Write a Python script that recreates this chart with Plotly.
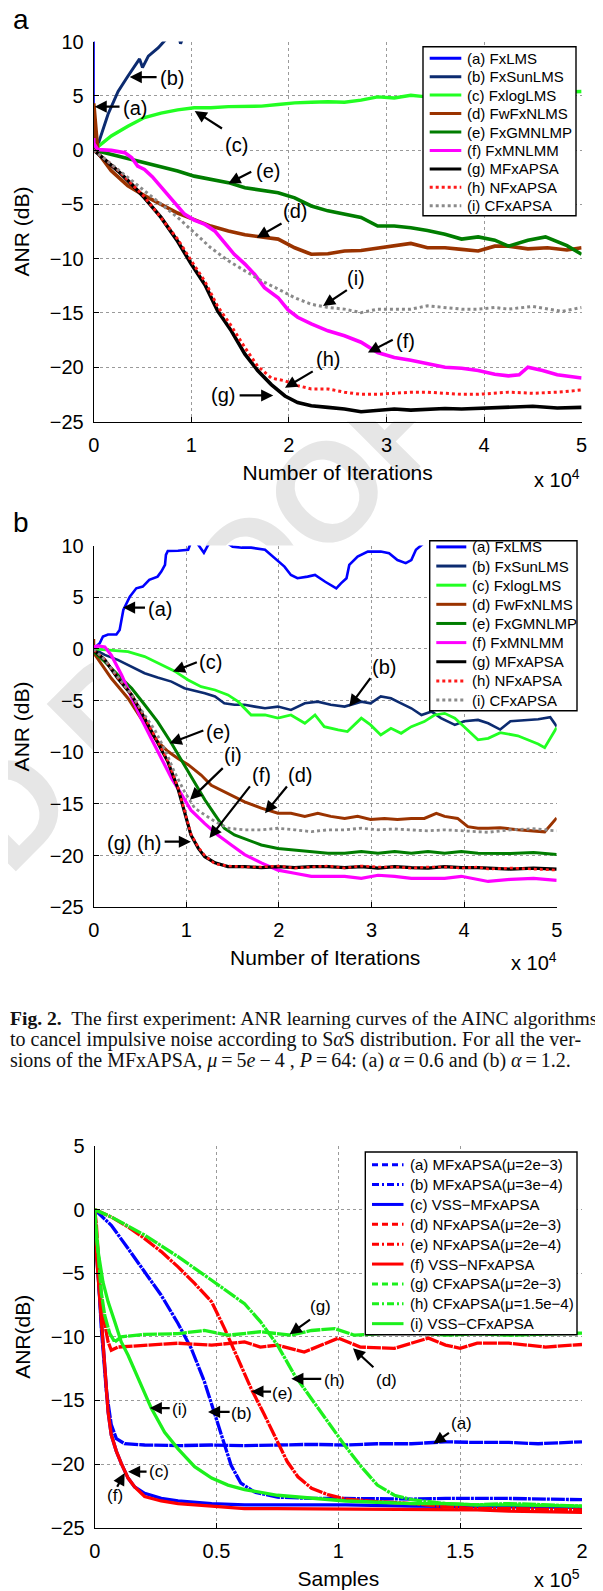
import plotly.graph_objects as go

W, H = 603, 1591
OFF = 8                       # the page body margin that shifts the figure
FW, FH = W - OFF, H - OFF     # figure size that exactly fills the window
SANS = "Liberation Sans, Arial, sans-serif"
SERIF = "Liberation Serif, Times New Roman, serif"

# ================= Panel (a): alpha = 0.6  (x in units of 1e4 iterations, ANR in dB)
A_NAMES = ["(a) FxLMS", "(b) FxSunLMS", "(c) FxlogLMS", "(d) FwFxNLMS", "(e) FxGMNLMP",
           "(f) FxMNLMM", "(g) MFxAPSA", "(h) NFxAPSA", "(i) CFxAPSA"]
A_X_A = [0, 0.002, 5.0]
A_Y_A = [0, 40, 40]
A_X_B = [0, 0.044, 0.147, 0.25, 0.35, 0.437, 0.47, 0.5, 0.56, 0.66, 0.74, 0.8, 0.87, 0.89, 0.92, 1.0, 5.0]
A_Y_B = [0, 0.5, 3.3, 5.4, 6.8, 7.9, 8.4, 7.6, 8.65, 9.4, 10.2, 10.6, 10.6, 9.8, 10.5, 11, 20]
A_X_C = [0, 0.18, 0.35, 0.52, 0.69, 0.86, 1.03, 1.2, 1.38, 1.55, 1.72, 1.89, 2.06, 2.23, 2.4, 2.57,
         2.74, 2.91, 3.08, 3.25, 3.36, 3.6, 4.0, 4.5, 5.0]
A_Y_C = [0, 1.3, 2.2, 3.0, 3.4, 3.7, 3.9, 3.9, 4.0, 4.05, 4.05, 4.2, 4.35, 4.4, 4.45, 4.4,
         4.6, 4.9, 4.8, 5.05, 4.95, 5.0, 5.1, 5.2, 5.4]
A_X_D = [0, 0.001, 0.044, 0.18, 0.35, 0.52, 0.69, 0.86, 1.03, 1.2, 1.38, 1.55, 1.72, 1.89, 2.06, 2.23,
         2.4, 2.57, 2.74, 2.91, 3.08, 3.25, 3.42, 3.6, 3.77, 3.94, 4.11, 4.25, 4.45, 4.65, 4.85, 5.0]
A_Y_D = [0, 4.3, -0.25, -1.9, -3.3, -4.2, -5.0, -5.8, -6.4, -7.0, -7.45, -7.8, -8.0, -8.2, -9.0, -9.6,
         -9.55, -9.3, -9.25, -9.05, -8.85, -8.6, -9.0, -9.0, -9.15, -9.3, -8.85, -8.85, -9.1, -9.0, -9.2, -9.0]
A_X_E = [0, 0.18, 0.35, 0.52, 0.69, 0.86, 1.03, 1.2, 1.38, 1.55, 1.72, 1.89, 2.06, 2.23, 2.4, 2.57,
         2.74, 2.91, 3.08, 3.25, 3.42, 3.6, 3.77, 3.94, 4.11, 4.25, 4.45, 4.63, 4.85, 5.0]
A_Y_E = [0, -0.4, -0.77, -1.17, -1.47, -1.93, -2.4, -2.7, -3.0, -3.47, -3.7, -3.93, -4.4, -5.15, -5.6, -5.9,
         -6.2, -7.0, -7.0, -7.15, -7.4, -7.75, -8.2, -8.0, -8.3, -8.85, -8.3, -8.0, -8.8, -9.6]
A_X_F = [0, 0.001, 0.04, 0.18, 0.32, 0.39, 0.45, 0.52, 0.6, 0.69, 0.8, 0.93, 1.03, 1.14, 1.24, 1.34, 1.44,
         1.55, 1.65, 1.75, 1.89, 1.99, 2.09, 2.23, 2.4, 2.57, 2.74, 2.91, 3.08, 3.25, 3.42, 3.6, 3.77,
         3.94, 4.11, 4.25, 4.36, 4.45, 4.6, 4.75, 5.0]
A_Y_F = [1.1, 0.6, 0.05, -0.03, -0.25, -0.7, -1.47, -1.78, -2.45, -3.4, -4.6, -5.9, -6.45, -6.85, -7.45,
         -8.5, -9.6, -10.5, -11.45, -12.67, -13.6, -14.7, -15.4, -16.0, -16.65, -17.1, -17.7, -18.65, -19.1,
         -19.35, -19.7, -20.0, -20.1, -20.3, -20.65, -20.8, -20.7, -20.0, -20.3, -20.7, -21.0]
A_X_G = [0, 0.11, 0.25, 0.39, 0.52, 0.69, 0.86, 1.0, 1.14, 1.27, 1.41, 1.55, 1.68, 1.82, 1.96, 2.09,
         2.23, 2.4, 2.57, 2.74, 2.91, 3.08, 3.25, 3.42, 3.6, 3.77, 3.94, 4.11, 4.25, 4.5, 4.75, 5.0]
A_Y_G = [0, -0.86, -1.93, -3.16, -4.4, -6.2, -8.4, -10.5, -12.4, -14.8, -16.65, -18.8, -20.3, -21.6,
         -22.65, -23.25, -23.55, -23.7, -23.85, -24.1, -24.0, -23.85, -23.95, -23.85, -23.8, -23.85,
         -23.8, -23.7, -23.7, -23.6, -23.75, -23.7]
A_X_H = [0, 0.25, 0.52, 0.86, 1.0, 1.14, 1.27, 1.41, 1.55, 1.68, 1.82, 1.96, 2.09, 2.23, 2.4, 2.57,
         2.74, 2.91, 3.08, 3.25, 3.42, 3.6, 3.77, 3.94, 4.11, 4.25, 4.5, 4.75, 5.0]
A_Y_H = [0, -1.85, -4.3, -8.2, -10.2, -12.1, -14.4, -16.2, -18.2, -19.9, -21.0, -21.25, -21.7, -22.0,
         -22.0, -22.3, -22.5, -22.5, -22.4, -22.3, -22.3, -22.4, -22.5, -22.5, -22.4, -22.3, -22.4,
         -22.3, -22.1]
A_X_I = [0, 0.18, 0.35, 0.52, 0.69, 0.86, 1.03, 1.2, 1.38, 1.55, 1.72, 1.89, 2.06, 2.23, 2.4, 2.57,
         2.74, 2.91, 3.08, 3.25, 3.42, 3.6, 3.77, 3.94, 4.11, 4.25, 4.5, 4.8, 5.0]
A_Y_I = [0, -1.3, -2.55, -3.77, -5.0, -6.2, -7.6, -9.0, -10.2, -11.1, -12.05, -12.8, -13.6, -14.2,
         -14.5, -14.65, -14.97, -14.65, -14.65, -14.65, -14.35, -14.5, -14.65, -14.65, -14.5, -14.65,
         -14.4, -14.85, -14.5]

# ================= Panel (b): alpha = 1.2
B_NAMES = A_NAMES
B_X_A = [0, 0.065, 0.1, 0.155, 0.245, 0.28, 0.32, 0.35, 0.39, 0.46, 0.53, 0.6, 0.64, 0.69, 0.73, 0.77,
         0.78, 0.8, 0.91, 1.02, 1.05, 1.12, 1.19, 1.25, 1.4, 1.5, 1.6, 1.7, 1.85, 1.95, 2.06, 2.13, 2.2,
         2.31, 2.39, 2.5, 2.62, 2.67, 2.73, 2.76, 2.85, 2.96, 3.1, 3.19, 3.28, 3.37, 3.43, 3.48, 3.54,
         3.6, 5.0]
B_Y_A = [0, 0.55, 1.2, 1.4, 1.4, 1.84, 3.77, 4.26, 5.06, 5.87, 6.03, 6.68, 6.84, 7.0, 7.48, 8.13,
         9.1, 9.48, 9.5, 9.6, 10.3, 10.2, 9.3, 10.3, 10.5, 9.9, 9.8, 9.8, 9.6, 8.8, 7.97, 7.16, 6.84,
         7.0, 7.16, 6.5, 5.87, 6.35, 6.84, 8.13, 8.94, 9.42, 9.42, 9.26, 8.6, 8.3, 8.6, 9.6, 10.06,
         10.5, 12]
B_X_B = [0, 0.12, 0.26, 0.41, 0.55, 0.69, 0.84, 0.98, 1.09, 1.2, 1.31, 1.41, 1.52, 1.63, 1.74, 1.85,
         1.99, 2.13, 2.28, 2.42, 2.56, 2.71, 2.89, 2.99, 3.1, 3.21, 3.32, 3.43, 3.54, 3.65, 3.75, 3.9,
         4.0, 4.15, 4.26, 4.39, 4.5, 4.8, 4.93, 5.0]
B_Y_B = [0, -0.58, -1.06, -1.71, -2.35, -2.77, -3.16, -3.8, -4.03, -4.29, -4.6, -5.26, -5.4, -5.4,
         -5.58, -5.74, -5.58, -5.9, -5.26, -5.1, -5.4, -5.58, -5.1, -5.26, -4.6, -4.77, -5.26, -5.74,
         -6.4, -6.06, -6.7, -7.35, -7.0, -6.87, -7.19, -7.8, -7.0, -6.8, -6.6, -7.5]
B_X_C = [0, 0.19, 0.37, 0.55, 0.73, 0.87, 1.02, 1.16, 1.31, 1.45, 1.56, 1.7, 1.85, 1.99, 2.13, 2.28,
         2.39, 2.49, 2.64, 2.74, 2.89, 2.99, 3.1, 3.21, 3.32, 3.43, 3.57, 3.68, 3.79, 3.9, 4.0, 4.15,
         4.26, 4.39, 4.58, 4.8, 4.87, 5.0]
B_Y_C = [0, -0.1, -0.26, -0.74, -1.55, -2.13, -3.0, -3.65, -3.97, -4.45, -5.1, -6.39, -6.39, -6.7,
         -6.39, -7.19, -6.39, -7.52, -7.84, -8.0, -6.7, -7.35, -8.32, -7.68, -8.16, -7.52, -7.03, -6.39,
         -6.23, -6.7, -7.52, -8.8, -8.65, -8.1, -8.4, -9.2, -9.55, -7.6]
B_X_D = [0, 0.002, 0.19, 0.37, 0.51, 0.69, 0.8, 0.91, 1.02, 1.16, 1.27, 1.45, 1.63, 1.81, 1.99, 2.13,
         2.28, 2.42, 2.56, 2.71, 2.85, 2.99, 3.14, 3.28, 3.43, 3.57, 3.7, 3.79, 3.93, 4.04, 4.15, 4.26,
         4.39, 4.58, 4.8, 4.87, 5.0]
B_Y_D = [0.97, -0.4, -2.84, -4.77, -6.7, -8.97, -9.9, -10.6, -11.2, -12.2, -13.2, -14.0, -14.8, -15.4,
         -15.9, -15.9, -16.2, -15.9, -16.2, -16.4, -16.2, -16.5, -16.4, -16.5, -16.4, -16.4, -15.9,
         -16.2, -16.4, -17.2, -17.35, -17.35, -17.3, -17.5, -17.6, -17.7, -16.35]
B_X_E = [0, 0.12, 0.26, 0.41, 0.55, 0.69, 0.84, 0.98, 1.09, 1.2, 1.31, 1.41, 1.52, 1.67, 1.81, 1.99,
         2.17, 2.35, 2.53, 2.71, 2.89, 3.07, 3.25, 3.43, 3.61, 3.79, 3.97, 4.15, 4.26, 4.5, 4.75, 5.0]
B_Y_E = [-0.26, -1.23, -2.5, -3.8, -5.4, -7.03, -9.13, -11.23, -12.84, -14.6, -16.06, -17.35, -18.0,
         -18.5, -18.97, -19.3, -19.45, -19.6, -19.77, -19.77, -19.6, -19.77, -19.6, -19.77, -19.6,
         -19.77, -19.6, -19.77, -19.77, -19.8, -19.7, -19.9]
B_X_F = [0, 0.05, 0.12, 0.19, 0.3, 0.41, 0.51, 0.62, 0.73, 0.84, 0.95, 1.05, 1.2, 1.34, 1.49, 1.63,
         1.81, 1.99, 2.17, 2.35, 2.53, 2.71, 2.89, 3.07, 3.25, 3.43, 3.61, 3.79, 3.97, 4.15, 4.26, 4.5,
         4.75, 5.0]
B_Y_F = [0.2, 0.3, 0.2, -0.6, -2.5, -4.77, -6.7, -8.65, -10.6, -12.5, -14.1, -15.6, -16.9, -18.0,
         -19.0, -19.9, -20.7, -21.4, -21.7, -22.0, -22.0, -22.0, -22.2, -21.9, -22.0, -22.2, -22.2,
         -22.2, -22.0, -22.35, -22.5, -22.3, -22.2, -22.4]
B_X_G = [0, 0.12, 0.26, 0.41, 0.55, 0.69, 0.8, 0.91, 0.98, 1.05, 1.13, 1.2, 1.31, 1.45, 1.63, 1.81,
         1.99, 2.17, 2.35, 2.53, 2.71, 2.89, 3.07, 3.25, 3.43, 3.61, 3.79, 3.97, 4.15, 4.26, 4.5, 4.75, 5.0]
B_Y_G = [-0.1, -1.06, -2.84, -4.45, -6.7, -8.97, -10.9, -13.5, -15.7, -18.0, -19.3, -20.1, -20.7,
         -21.06, -21.06, -21.16, -21.06, -21.16, -21.06, -21.06, -21.16, -21.06, -21.2, -21.06, -21.16,
         -21.2, -21.06, -21.16, -21.16, -21.2, -21.3, -21.2, -21.3]
B_X_H = B_X_G
B_Y_H = [-0.1, -1.0, -2.8, -4.4, -6.6, -8.9, -10.8, -13.4, -15.6, -17.9, -19.2, -20.0, -20.8, -21.0,
         -21.1, -21.1, -21.0, -21.2, -21.1, -21.0, -21.2, -21.0, -21.1, -21.1, -21.2, -21.1, -21.1,
         -21.2, -21.1, -21.3, -21.2, -21.3, -21.4]
B_X_I = [0, 0.12, 0.26, 0.41, 0.55, 0.66, 0.77, 0.87, 0.98, 1.09, 1.2, 1.31, 1.45, 1.63, 1.81, 1.99,
         2.17, 2.35, 2.53, 2.71, 2.89, 3.07, 3.25, 3.43, 3.61, 3.79, 3.97, 4.15, 4.26, 4.5, 4.75, 5.0]
B_Y_I = [0, -1.06, -2.7, -4.45, -6.4, -7.84, -9.77, -11.87, -13.8, -15.4, -16.06, -16.7, -17.35,
         -17.5, -17.5, -17.35, -17.5, -17.68, -17.5, -17.5, -17.35, -17.5, -17.42, -17.5, -17.6, -17.5,
         -17.6, -17.68, -17.74, -17.5, -17.4, -17.6]

# ================= Panel (c): samples in units of 1e5
C_NAMES = ["(a) MFxAPSA(\u03bc=2e\u22123)", "(b) MFxAPSA(\u03bc=3e\u22124)", "(c) VSS\u2212MFxAPSA",
           "(d) NFxAPSA(\u03bc=2e\u22123)", "(e) NFxAPSA(\u03bc=2e\u22124)", "(f) VSS\u2212NFxAPSA",
           "(g) CFxAPSA(\u03bc=2e\u22123)", "(h) CFxAPSA(\u03bc=1.5e\u22124)", "(i) VSS\u2212CFxAPSA"]
C_X_A = [0, 0.007, 0.027, 0.048, 0.068, 0.089, 0.123, 0.205, 0.34, 0.48, 0.615, 0.75, 0.89, 1.03,
         1.16, 1.3, 1.44, 1.57, 1.7, 1.82, 2.0]
C_Y_A = [0, -2.5, -9.3, -14.3, -16.9, -18.0, -18.4, -18.5, -18.55, -18.5, -18.55, -18.5, -18.45,
         -18.5, -18.4, -18.4, -18.25, -18.3, -18.3, -18.4, -18.25]
C_X_B = [0, 0.068, 0.137, 0.205, 0.273, 0.342, 0.396, 0.45, 0.49, 0.533, 0.56, 0.6, 0.656, 0.75,
         0.89, 1.03, 1.16, 1.3, 1.44, 1.57, 1.7, 2.0]
C_Y_B = [0, -1.23, -3.06, -4.9, -6.73, -8.95, -10.9, -13.5, -15.9, -18.5, -20.1, -21.5, -22.2, -22.6,
         -22.7, -22.7, -22.75, -22.75, -22.7, -22.7, -22.7, -22.8]
C_X_C = [0, 0.014, 0.027, 0.041, 0.055, 0.068, 0.089, 0.109, 0.137, 0.164, 0.205, 0.273, 0.342,
         0.48, 0.615, 0.75, 1.03, 1.3, 1.57, 1.7, 2.0]
C_Y_C = [-1.5, -5.2, -9.3, -13.0, -15.9, -17.7, -19.0, -19.95, -21.1, -21.8, -22.3, -22.7, -22.9,
         -23.1, -23.2, -23.2, -23.2, -23.3, -23.35, -23.35, -23.4]
C_X_D = [0, 0.007, 0.02, 0.034, 0.055, 0.068, 0.096, 0.205, 0.342, 0.48, 0.615, 0.68, 0.75, 0.86,
         0.96, 1.0, 1.09, 1.23, 1.37, 1.44, 1.5, 1.57, 1.7, 1.85, 2.0]
C_Y_D = [0, -1.2, -5.2, -8.3, -10.4, -11.05, -10.8, -10.65, -10.5, -10.65, -10.4, -10.8, -10.65,
         -11.2, -10.4, -10.1, -10.8, -10.9, -10.1, -10.65, -10.9, -10.5, -10.5, -10.8, -10.6]
C_X_E = [0, 0.068, 0.137, 0.205, 0.273, 0.342, 0.41, 0.48, 0.533, 0.588, 0.642, 0.697, 0.75, 0.79,
         0.834, 0.89, 0.957, 1.03, 1.16, 1.3, 1.44, 1.57, 1.7, 2.0]
C_Y_E = [0, -0.58, -1.36, -2.28, -3.3, -4.5, -5.8, -7.25, -9.35, -11.7, -14.06, -16.15, -18.25,
         -19.8, -21.0, -21.9, -22.4, -22.75, -22.95, -23.1, -23.35, -23.5, -23.5, -23.6]
C_X_F = C_X_C
C_Y_F = [-1.6, -5.2, -9.3, -13.0, -15.9, -17.7, -19.0, -19.95, -21.1, -21.8, -22.55, -22.9, -23.1,
         -23.3, -23.5, -23.5, -23.55, -23.6, -23.6, -23.7, -23.8]
C_X_G = [0, 0.003, 0.014, 0.027, 0.041, 0.062, 0.082, 0.109, 0.205, 0.342, 0.45, 0.547, 0.68, 0.806,
         0.89, 0.985, 1.066, 1.16, 1.3, 1.44, 1.57, 1.7, 1.85, 2.0]
C_Y_G = [0, -0.7, -3.85, -6.5, -8.3, -9.75, -10.4, -10.0, -9.8, -9.75, -9.5, -9.87, -9.6, -9.87,
         -9.5, -9.35, -9.87, -9.75, -9.6, -9.87, -9.75, -9.87, -9.8, -9.7]
C_X_H = [0, 0.068, 0.205, 0.342, 0.48, 0.615, 0.68, 0.75, 0.82, 0.89, 0.957, 1.025, 1.094, 1.16,
         1.23, 1.3, 1.44, 1.57, 1.7, 2.0]
C_Y_H = [0, -0.58, -2.0, -3.7, -5.55, -7.4, -8.8, -10.65, -13.0, -14.85, -16.7, -18.5, -20.2,
         -21.65, -22.45, -22.8, -23.1, -23.2, -23.1, -23.3]
C_X_I = [0, 0.014, 0.034, 0.055, 0.082, 0.109, 0.137, 0.178, 0.232, 0.287, 0.342, 0.41, 0.48,
         0.547, 0.615, 0.75, 0.89, 1.03, 1.16, 1.3, 1.44, 1.57, 1.7, 2.0]
C_Y_I = [-1.0, -3.3, -5.7, -7.25, -8.8, -10.4, -11.45, -13.3, -15.6, -17.5, -18.8, -20.2, -21.1,
         -21.65, -22.0, -22.45, -22.7, -22.9, -23.0, -23.1, -23.1, -23.2, -23.2, -23.3]

AB_TICKS = [0, 1, 2, 3, 4, 5]
C_TICKS = [0, 0.5, 1, 1.5, 2]

# ---------------- styles
AB_COLORS = ["#0000ff", "#0c2b70", "#22ff22", "#9a3300", "#007d00", "#ff00ff", "#000000", "#ff1a1a", "#8a8a8a"]
AB_DASH = ["solid"] * 7 + ["dot", "dot"]
A_WIDTHS = [2.2, 3, 3.4, 3.6, 3.6, 3.6, 3.6, 3, 3]
B_WIDTHS = [2.6, 2.6, 2.8, 3, 3, 3.2, 3.2, 2.6, 2.8]
C_COLORS = ["#0000ff"] * 3 + ["#ff0000"] * 3 + ["#1cf01c"] * 3
C_DASH_PLOT = ["14px,1px", "14px,1px,3px,1px", "solid"] * 3
C_DASH_LEG = ["6px,4px", "7px,3px,2px,3px", "solid"] * 3


def px(v):
    """reference pixel column -> paper coordinate"""
    return (v - OFF) / FW


def py(v):
    """reference pixel row -> paper coordinate"""
    return 1 - (v - OFF) / FH


fig = go.Figure()

panel_a = [(A_X_A, A_Y_A), (A_X_B, A_Y_B), (A_X_C, A_Y_C), (A_X_D, A_Y_D), (A_X_E, A_Y_E),
           (A_X_F, A_Y_F), (A_X_G, A_Y_G), (A_X_H, A_Y_H), (A_X_I, A_Y_I)]
panel_b = [(B_X_A, B_Y_A), (B_X_B, B_Y_B), (B_X_C, B_Y_C), (B_X_D, B_Y_D), (B_X_E, B_Y_E),
           (B_X_F, B_Y_F), (B_X_G, B_Y_G), (B_X_H, B_Y_H), (B_X_I, B_Y_I)]
panel_c = [(C_X_A, C_Y_A), (C_X_B, C_Y_B), (C_X_C, C_Y_C), (C_X_D, C_Y_D), (C_X_E, C_Y_E),
           (C_X_F, C_Y_F), (C_X_G, C_Y_G), (C_X_H, C_Y_H), (C_X_I, C_Y_I)]

for k, (xs, ys) in enumerate(panel_a):
    fig.add_trace(go.Scatter(x=xs, y=ys, mode="lines", name=A_NAMES[k], xaxis="x", yaxis="y",
                             line=dict(color=AB_COLORS[k], width=A_WIDTHS[k], dash=AB_DASH[k])))
for k, (xs, ys) in enumerate(panel_b):
    fig.add_trace(go.Scatter(x=xs, y=ys, mode="lines", name=B_NAMES[k], xaxis="x2", yaxis="y2",
                             line=dict(color=AB_COLORS[k], width=B_WIDTHS[k], dash=AB_DASH[k])))
for k, (xs, ys) in enumerate(panel_c):
    fig.add_trace(go.Scatter(x=xs, y=ys, mode="lines", name=C_NAMES[k], xaxis="x3", yaxis="y3",
                             line=dict(color=C_COLORS[k], width=3.3, dash=C_DASH_PLOT[k])))

TICKF = dict(family=SANS, size=20, color="black")
TITLEF = dict(family=SANS, size=21, color="black")
AX = dict(showline=True, linecolor="black", linewidth=1, mirror=False, ticks="inside", ticklen=5,
          tickwidth=1, tickcolor="black", showgrid=True, gridcolor="#9a9a9a", griddash="dot",
          gridwidth=1, zeroline=False, tickfont=TICKF, automargin=False, ticklabelstandoff=5)

DOM_A = (93.7, 581.6, 41.5, 421.5)     # left, right, top, bottom in reference pixels
DOM_B = (93.7, 556.7, 545.6, 907.3)
DOM_C = (94.7, 582.0, 1146.0, 1527.7)

fig.update_layout(
    width=FW, height=FH, margin=dict(l=0, r=0, t=0, b=0),
    paper_bgcolor="white", plot_bgcolor="white", showlegend=False,
    xaxis=dict(AX, domain=[px(DOM_A[0]), px(DOM_A[1])], range=[0, 5], tickvals=AB_TICKS, anchor="y",
               title=dict(text="Number of Iterations", font=TITLEF, standoff=10)),
    yaxis=dict(AX, domain=[py(DOM_A[3]), py(DOM_A[2])], range=[-25, 10], dtick=5, anchor="x",
               title=dict(text="ANR (dB)", font=TITLEF, standoff=14)),
    xaxis2=dict(AX, domain=[px(DOM_B[0]), px(DOM_B[1])], range=[0, 5], tickvals=AB_TICKS, anchor="y2",
                title=dict(text="Number of Iterations", font=TITLEF, standoff=10)),
    yaxis2=dict(AX, domain=[py(DOM_B[3]), py(DOM_B[2])], range=[-25, 10], dtick=5, anchor="x2",
                title=dict(text="ANR (dB)", font=TITLEF, standoff=14)),
    xaxis3=dict(AX, domain=[px(DOM_C[0]), px(DOM_C[1])], range=[0, 2], tickvals=C_TICKS, anchor="y3",
                title=dict(text="Samples", font=TITLEF, standoff=10)),
    yaxis3=dict(AX, domain=[py(DOM_C[3]), py(DOM_C[2])], range=[-25, 5], dtick=5, anchor="x3",
                title=dict(text="ANR(dB)", font=TITLEF, standoff=14)),
)

shapes = []
annots = []

# faint diagonal "proof" watermark of the page, hidden behind the white plot areas
shapes.append(dict(type="line", xref="paper", yref="paper", x0=px(-358), y0=py(1158), x1=px(42), y1=py(758),
                   layer="below", line=dict(color="rgba(0,0,0,0)", width=0),
                   label=dict(text="UNCORRECTED PROOF", textposition="middle", yanchor="middle",
                              font=dict(family=SANS, size=140, color="#e6e6e6", weight="bold"))))
for l, r, t, b in (DOM_A, DOM_B, DOM_C):
    shapes.append(dict(type="rect", xref="paper", yref="paper", x0=px(l), x1=px(r), y0=py(b), y1=py(t),
                       layer="below", line=dict(width=0), fillcolor="white"))


def add_legend(left, right, top, bottom, y0, dy, lx0, lx1, tx, names, colors, dashes, fsize):
    shapes.append(dict(type="rect", xref="paper", yref="paper", x0=px(left), x1=px(right),
                       y0=py(bottom), y1=py(top), line=dict(color="black", width=1.4),
                       fillcolor="white", layer="above"))
    for k, nm in enumerate(names):
        yc = y0 + k * dy
        shapes.append(dict(type="line", xref="paper", yref="paper", x0=px(lx0), x1=px(lx1),
                           y0=py(yc), y1=py(yc), layer="above",
                           line=dict(color=colors[k], width=3, dash=dashes[k])))
        annots.append(dict(text=nm, xref="paper", yref="paper", x=px(tx), y=py(yc), xanchor="left",
                           yanchor="middle", showarrow=False, font=dict(family=SANS, size=fsize, color="black")))


add_legend(423, 576, 46.7, 215.7, 58.2, 18.45, 429.7, 461.3, 464.7, A_NAMES, AB_COLORS, AB_DASH, 15)
add_legend(429.7, 577, 540.7, 710.7, 546.9, 19.14, 436.3, 466.3, 469.7, B_NAMES, AB_COLORS, AB_DASH, 15)
add_legend(365.3, 577, 1152, 1334.7, 1164.7, 19.87, 372, 403.5, 408, C_NAMES, C_COLORS, C_DASH_LEG, 15)


def arrow(ax_id, head, tail, label, lpos, fsize):
    annots.append(dict(text="", xref=ax_id[0], yref=ax_id[1], axref=ax_id[0], ayref=ax_id[1],
                       x=head[0], y=head[1], ax=tail[0], ay=tail[1], showarrow=True,
                       arrowhead=2, arrowsize=1.1, arrowwidth=2.2, arrowcolor="black"))
    annots.append(dict(text=label, xref=ax_id[0], yref=ax_id[1], x=lpos[0], y=lpos[1],
                       showarrow=False, xanchor="center", yanchor="middle",
                       font=dict(family=SANS, size=fsize, color="black")))


PA = ("x", "y")
arrow(PA, (0.369, 6.72), (0.66, 6.72), "(b)", (0.80, 6.65), 20)
arrow(PA, (0.01, 4.0), (0.28, 4.0), "(a)", (0.42, 3.9), 20)
arrow(PA, (1.035, 3.6), (1.33, 1.9), "(c)", (1.46, 0.5), 20)
arrow(PA, (1.38, -3.07), (1.63, -1.93), "(e)", (1.79, -1.93), 20)
arrow(PA, (1.67, -8.07), (1.94, -6.69), "(d)", (2.06, -5.6), 20)
arrow(PA, (2.35, -14.36), (2.61, -12.8), "(i)", (2.69, -11.75), 20)
arrow(PA, (2.81, -18.65), (3.08, -17.4), "(f)", (3.20, -17.6), 20)
arrow(PA, (1.96, -21.9), (2.26, -20.3), "(h)", (2.40, -19.25), 20)
arrow(PA, (1.84, -22.6), (1.48, -22.6), "(g)", (1.33, -22.6), 20)

PB = ("x2", "y2")
arrow(PB, (0.317, 4.0), (0.57, 4.0), "(a)", (0.72, 3.87), 20)
arrow(PB, (0.856, -2.19), (1.13, -1.23), "(c)", (1.26, -1.29), 20)
arrow(PB, (2.76, -5.58), (3.0, -2.68), "(b)", (3.13, -1.71), 20)
arrow(PB, (0.82, -9.13), (1.2, -7.84), "(e)", (1.34, -8.0), 20)
arrow(PB, (1.04, -14.6), (1.41, -11.39), "(i)", (1.50, -10.26), 20)
arrow(PB, (1.25, -18.3), (1.70, -13.16), "(f)", (1.81, -12.2), 20)
arrow(PB, (1.85, -15.9), (2.10, -13.16), "(d)", (2.23, -12.2), 20)
arrow(PB, (1.05, -18.65), (0.75, -18.65), "(g) (h)", (0.44, -18.8), 20)

PC = ("x3", "y3")
arrow(PC, (0.80, -9.8), (0.89, -8.56), "(g)", (0.925, -7.64), 17)
arrow(PC, (1.06, -10.9), (1.15, -12.5), "(d)", (1.196, -13.4), 17)
arrow(PC, (0.807, -13.3), (0.936, -13.3), "(h)", (0.984, -13.4), 17)
arrow(PC, (0.643, -14.3), (0.73, -14.3), "(e)", (0.772, -14.45), 17)
arrow(PC, (0.226, -15.6), (0.314, -15.6), "(i)", (0.349, -15.7), 17)
arrow(PC, (0.465, -15.9), (0.56, -15.9), "(b)", (0.603, -16.0), 17)
arrow(PC, (1.39, -18.4), (1.46, -17.46), "(a)", (1.507, -16.8), 17)
arrow(PC, (0.137, -20.6), (0.219, -20.6), "(c)", (0.263, -20.6), 17)
arrow(PC, (0.123, -20.7), (0.089, -21.9), "(f)", (0.082, -22.45), 17)

# panel letters and exponent labels
for txt, xx, yy in [("a", 21, 19), ("b", 21, 522)]:
    annots.append(dict(text=txt, xref="paper", yref="paper", x=px(xx), y=py(yy), showarrow=False,
                       xanchor="center", yanchor="middle", font=dict(family=SANS, size=28, color="black")))
for txt, xr, yy in [("x 10<sup>4</sup>", 582, 478), ("x 10<sup>4</sup>", 559, 961), ("x 10<sup>5</sup>", 582, 1578)]:
    annots.append(dict(text=txt, xref="paper", yref="paper", x=px(xr), y=py(yy), showarrow=False,
                       xanchor="right", yanchor="middle", font=dict(family=SANS, size=20, color="black")))

CAPTION = [
    "<b>Fig. 2.</b>  The first experiment: ANR learning curves of the AINC algorithms",
    "to cancel impulsive noise according to S<i>\u03b1</i>S distribution. For all the ver-",
    "sions of the MFxAPSA, <i>\u03bc</i>\u2009=\u20095<i>e</i>\u2009\u2212\u20094 , <i>P</i>\u2009=\u200964: "
    "(a) <i>\u03b1</i>\u2009=\u20090.6 and (b) <i>\u03b1</i>\u2009=\u20091.2.",
]
CAP_SIZES = [19.6, 20, 20]
for k, line in enumerate(CAPTION):
    annots.append(dict(text=line, xref="paper", yref="paper", x=px(OFF), y=py(1019 + 20.5 * k),
                       showarrow=False, xanchor="left", yanchor="middle",
                       font=dict(family=SERIF, size=CAP_SIZES[k], color="#111111")))

fig.update_layout(shapes=shapes, annotations=annots)
fig.write_html("out.html")
